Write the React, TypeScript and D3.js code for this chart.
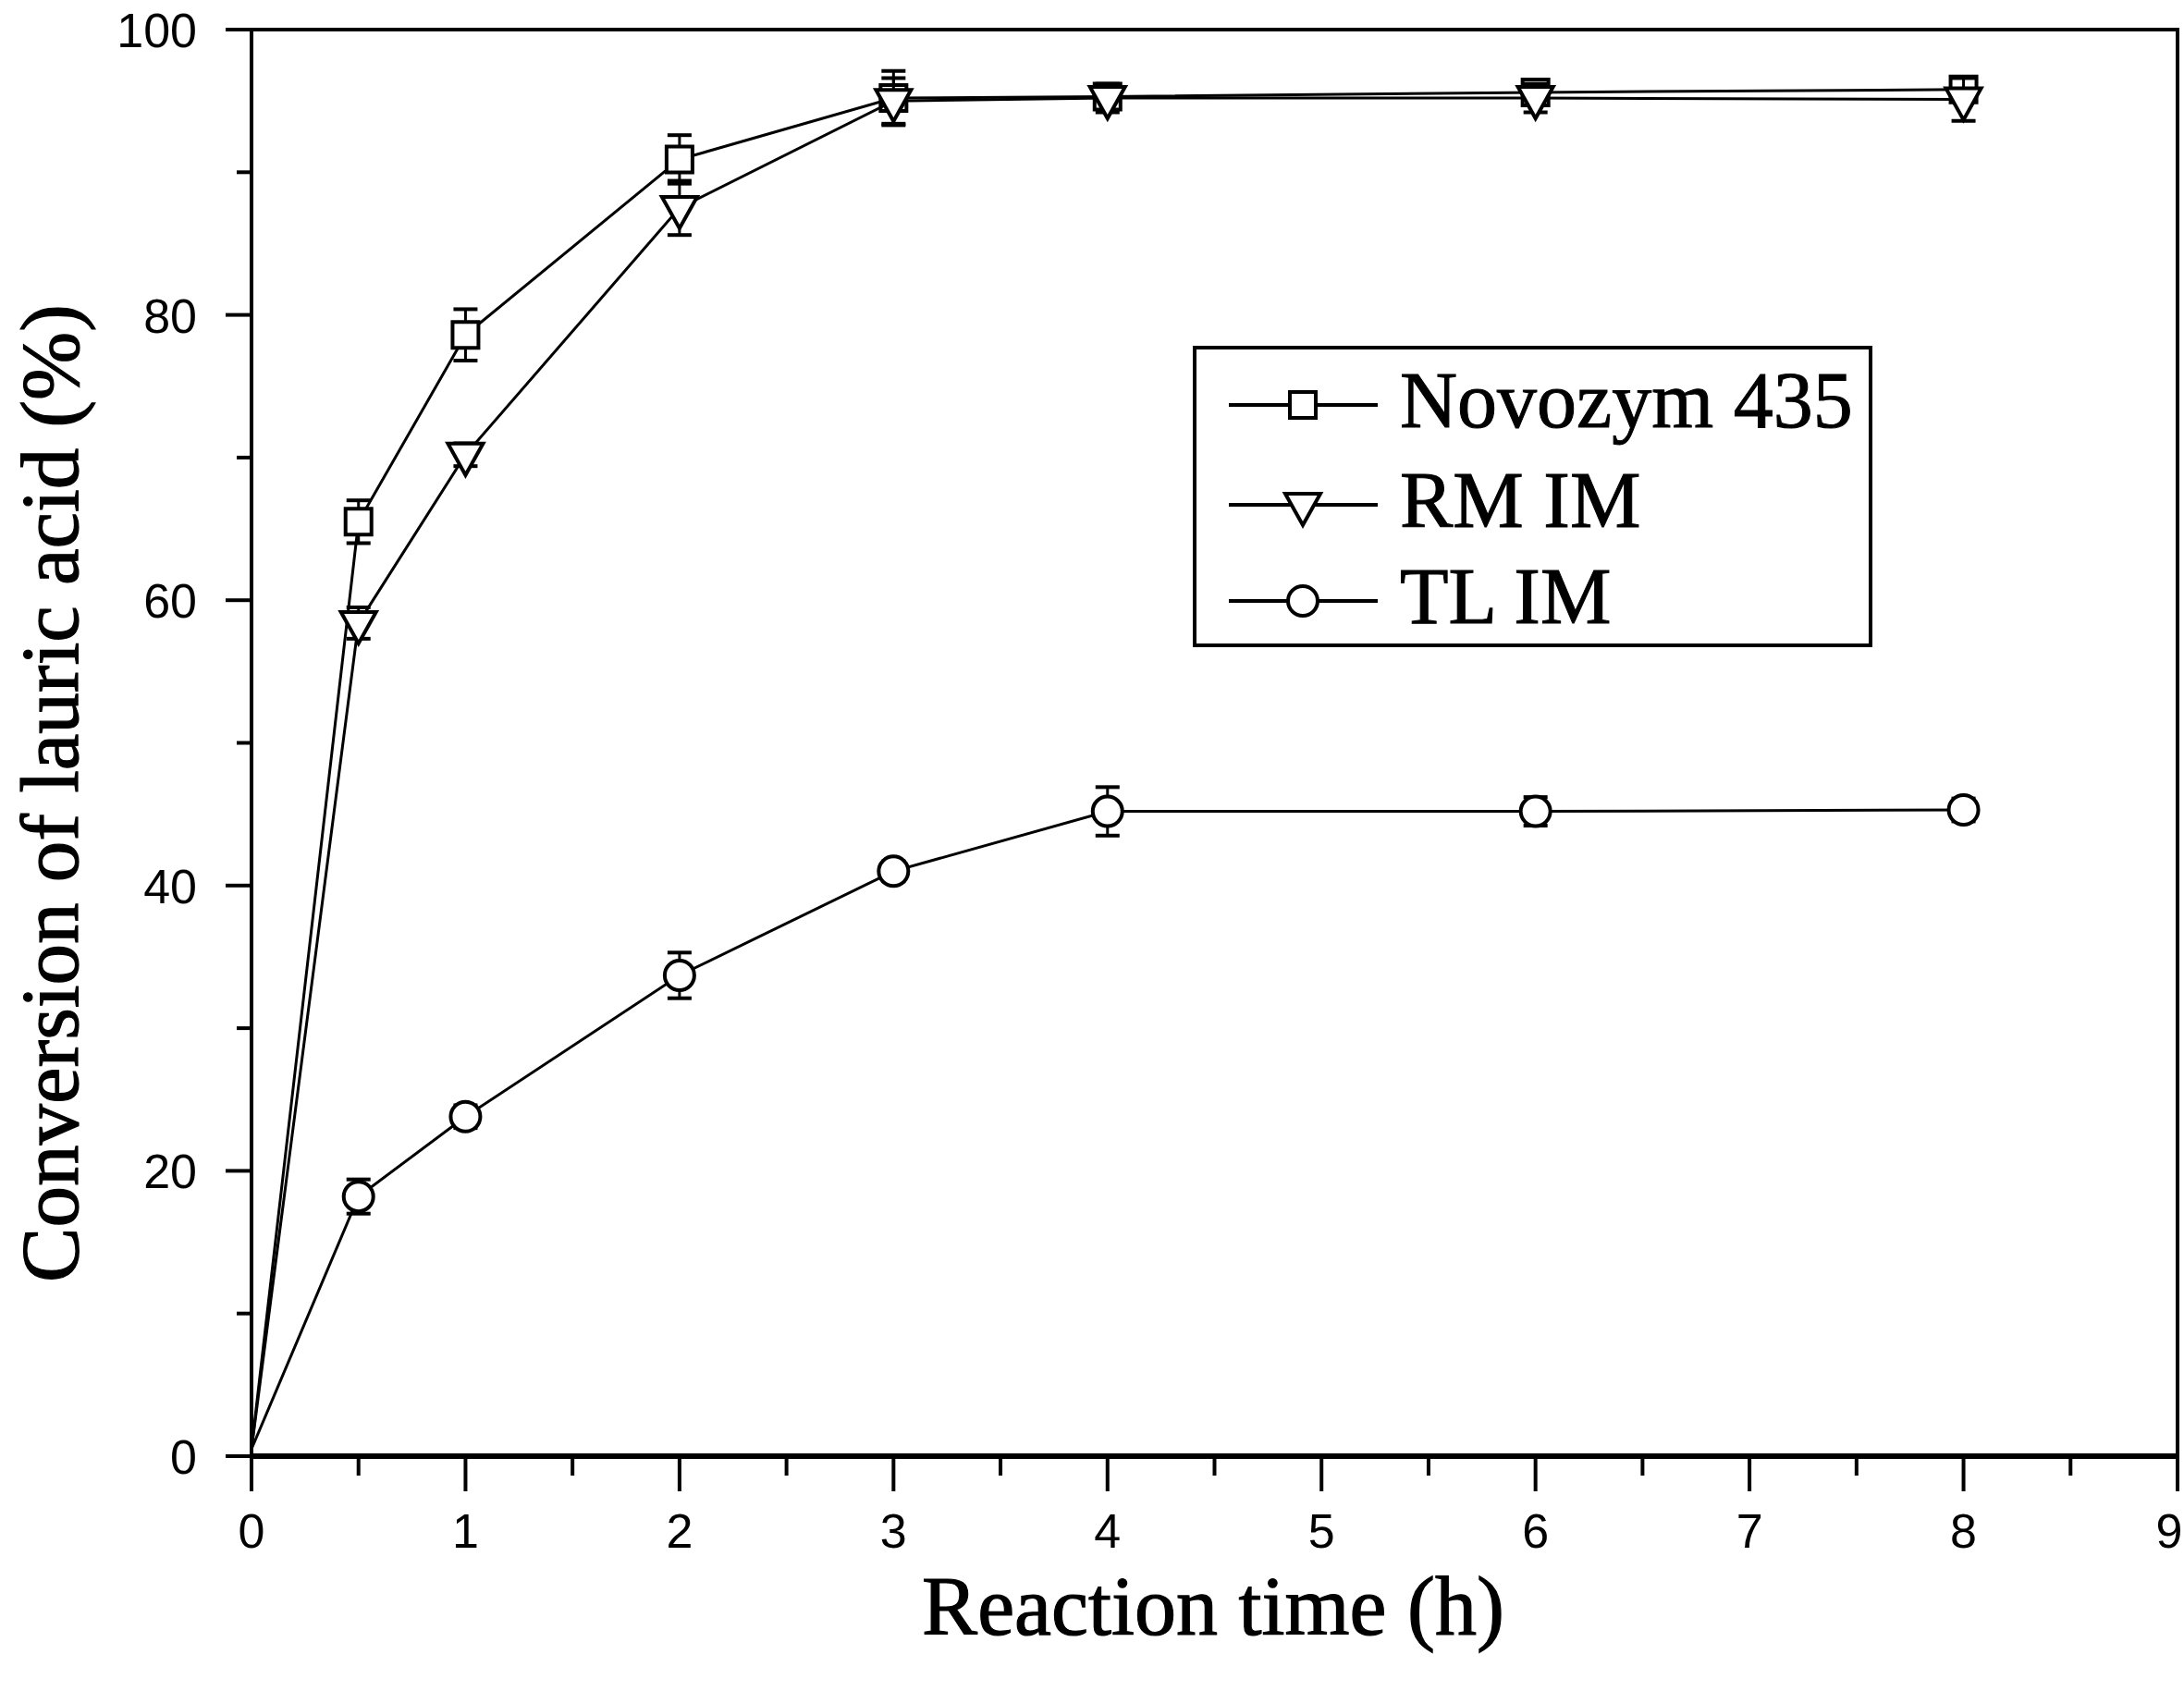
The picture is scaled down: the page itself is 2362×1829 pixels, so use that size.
import { useEffect, useRef } from 'react';
import * as d3 from 'd3';

const times = [0, 0.5, 1, 2, 3, 4, 6, 8];
const novozym = [0.5, 65.5, 78.6, 90.9, 95.2, 95.3, 95.6, 95.8];
const novozymErr = [0, 1.5, 1.8, 1.7, 1.9, 0.7, 0.7, 0.8];
const rmIm = [0.5, 58.4, 70.2, 87.5, 95.0, 95.2, 95.2, 95.1];
const rmImErr = [0, 1.1, 0.8, 1.9, 1.6, 1.0, 1.0, 1.5];
const tlIm = [0.5, 18.2, 23.8, 33.7, 41.0, 45.2, 45.2, 45.3];
const tlImErr = [0, 1.2, 0.8, 1.6, 0.7, 1.7, 1.0, 0.8];

const seriesNames = ['Novozym 435', 'RM IM', 'TL IM'];
const xTicks = [0, 1, 2, 3, 4, 5, 6, 7, 8, 9];
const yTicks = [0, 20, 40, 60, 80, 100];

type Shape = 'square' | 'triangle' | 'circle';

const W = 2362;
const H = 1829;

function markerPath(shape: Shape): string {
	if (shape === 'square') {
		const s = 14;
		return `M${-s},${-s}H${s}V${s}H${-s}Z`;
	}
	if (shape === 'triangle') {
		return 'M-19,-12L19,-12L0,22Z';
	}
	const p = d3.path();
	p.arc(0, 0, 16, 0, Math.PI * 2);
	return p.toString();
}

const App = () => {
	const ref = useRef<SVGSVGElement>(null);

	useEffect(() => {
		if (!ref.current) return;
		const svg = d3.select(ref.current);
		svg.selectAll('*').remove();

		const left = 272;
		const right = 2355;
		const top = 32;
		const bottom = 1575;

		const x = d3.scaleLinear().domain([0, 9]).range([left, right]);
		const y = d3.scaleLinear().domain([0, 100]).range([bottom, top]);

		const sansFont = "'Liberation Sans Narrow', 'Liberation Sans', Arial, sans-serif";
		const serifFont = "'Liberation Serif', 'Times New Roman', serif";

		// frame
		svg.append('rect')
			.attr('x', left)
			.attr('y', top)
			.attr('width', right - left)
			.attr('height', bottom - top)
			.attr('fill', 'none')
			.attr('stroke', '#000')
			.attr('stroke-width', 4);
		svg.append('line')
			.attr('x1', left)
			.attr('x2', right)
			.attr('y1', bottom)
			.attr('y2', bottom)
			.attr('stroke', '#000')
			.attr('stroke-width', 6);

		// x ticks
		const xMinor = d3.range(0.5, 9, 1);
		svg.append('g')
			.selectAll('line')
			.data(xTicks)
			.join('line')
			.attr('x1', (d) => x(d))
			.attr('x2', (d) => x(d))
			.attr('y1', bottom)
			.attr('y2', bottom + 38)
			.attr('stroke', '#000')
			.attr('stroke-width', 4);
		svg.append('g')
			.selectAll('line')
			.data(xMinor)
			.join('line')
			.attr('x1', (d) => x(d))
			.attr('x2', (d) => x(d))
			.attr('y1', bottom)
			.attr('y2', bottom + 21)
			.attr('stroke', '#000')
			.attr('stroke-width', 4);
		svg.append('g')
			.selectAll('text')
			.data(xTicks)
			.join('text')
			.attr('x', (d) => Math.min(x(d), W - 16))
			.attr('y', 1674)
			.attr('text-anchor', 'middle')
			.style('font-family', sansFont)
			.style('font-size', '52px')
			.text((d) => d);

		// y ticks
		const yMinor = d3.range(10, 100, 20);
		svg.append('g')
			.selectAll('line')
			.data(yTicks)
			.join('line')
			.attr('x1', left - 28)
			.attr('x2', left)
			.attr('y1', (d) => y(d))
			.attr('y2', (d) => y(d))
			.attr('stroke', '#000')
			.attr('stroke-width', 4);
		svg.append('g')
			.selectAll('line')
			.data(yMinor)
			.join('line')
			.attr('x1', left - 16)
			.attr('x2', left)
			.attr('y1', (d) => y(d))
			.attr('y2', (d) => y(d))
			.attr('stroke', '#000')
			.attr('stroke-width', 4);
		svg.append('g')
			.selectAll('text')
			.data(yTicks)
			.join('text')
			.attr('x', 213)
			.attr('y', (d) => y(d) + 19)
			.attr('text-anchor', 'end')
			.style('font-family', sansFont)
			.style('font-size', '52px')
			.text((d) => d);

		// axis titles
		svg.append('text')
			.attr('x', 1312)
			.attr('y', 1768)
			.attr('text-anchor', 'middle')
			.style('font-family', serifFont)
			.style('font-size', '90px')
			.attr('stroke', '#000')
			.attr('stroke-width', 1.2)
			.text('Reaction time (h)');
		svg.append('text')
			.attr('transform', `translate(84, 858) rotate(-90)`)
			.attr('text-anchor', 'middle')
			.style('font-family', serifFont)
			.style('font-size', '89px')
			.attr('stroke', '#000')
			.attr('stroke-width', 1.2)
			.text('Conversion of lauric acid (%)');

		const series: { values: number[]; err: number[]; shape: Shape }[] = [
			{ values: novozym, err: novozymErr, shape: 'square' },
			{ values: rmIm, err: rmImErr, shape: 'triangle' },
			{ values: tlIm, err: tlImErr, shape: 'circle' },
		];

		const line = d3
			.line<number>()
			.x((_, i) => x(times[i]))
			.y((d) => y(d));

		series.forEach((s) => {
			const g = svg.append('g');
			g.append('path')
				.attr('d', line(s.values) ?? '')
				.attr('fill', 'none')
				.attr('stroke', '#000')
				.attr('stroke-width', 3);

			const pts = s.values
				.map((v, i) => ({ t: times[i], v, e: s.err[i] }))
				.filter((p) => p.t > 0);

			pts.forEach((p) => {
				const cx = x(p.t);
				const yHi = y(p.v + p.e);
				const yLo = y(p.v - p.e);
				g.append('line')
					.attr('x1', cx)
					.attr('x2', cx)
					.attr('y1', yHi)
					.attr('y2', yLo)
					.attr('stroke', '#000')
					.attr('stroke-width', 3);
				[yHi, yLo].forEach((yy) => {
					g.append('line')
						.attr('x1', cx - 13)
						.attr('x2', cx + 13)
						.attr('y1', yy)
						.attr('y2', yy)
						.attr('stroke', '#000')
						.attr('stroke-width', 4);
				});
			});

			g.selectAll('path.marker')
				.data(pts)
				.join('path')
				.attr('class', 'marker')
				.attr('transform', (p) => `translate(${x(p.t)},${y(p.v)})`)
				.attr('d', markerPath(s.shape))
				.attr('fill', '#fff')
				.attr('stroke', '#000')
				.attr('stroke-width', 4);
		});

		// legend
		const lg = svg.append('g');
		lg.append('rect')
			.attr('x', 1292)
			.attr('y', 376)
			.attr('width', 731)
			.attr('height', 322)
			.attr('fill', '#fff')
			.attr('stroke', '#000')
			.attr('stroke-width', 4);
		const rowY = [438, 546, 650];
		series.forEach((s, i) => {
			lg.append('line')
				.attr('x1', 1329)
				.attr('x2', 1490)
				.attr('y1', rowY[i])
				.attr('y2', rowY[i])
				.attr('stroke', '#000')
				.attr('stroke-width', 4);
			lg.append('path')
				.attr('transform', `translate(1409,${rowY[i]})`)
				.attr('d', markerPath(s.shape))
				.attr('fill', '#fff')
				.attr('stroke', '#000')
				.attr('stroke-width', 4);
			lg.append('text')
				.attr('x', 1514)
				.attr('y', rowY[i] + 24)
				.style('font-family', serifFont)
				.style('font-size', '86px')
				.attr('stroke', '#000')
				.attr('stroke-width', 1)
				.text(seriesNames[i]);
		});
	}, []);

	return (
		<div style={{ position: 'absolute', left: 0, top: 0 }}>
			<svg ref={ref} width={W} height={H} style={{ display: 'block', background: '#fff' }}></svg>
		</div>
	);
};

export default App;
